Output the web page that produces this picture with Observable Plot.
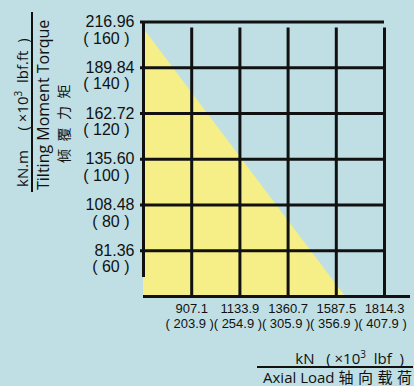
<!DOCTYPE html>
<html>
<head>
<meta charset="utf-8">
<script src="https://cdn.jsdelivr.net/npm/d3@7"></script>
<script src="https://cdn.jsdelivr.net/npm/@observablehq/plot@0.6"></script>
<style>
  html, body { margin: 0; padding: 0; background: #bfdfe4; }
  body { width: 414px; height: 386px; position: relative; overflow: hidden; font-family: "Open Sans", sans-serif; color: #111; }
  #chart { position: absolute; left: 0; top: 0; }
  .ytitle { position: absolute; left: 13px; top: 192px; width: 180px; transform-origin: 0 0; transform: rotate(-90deg); }
  .ytitle .l1 { font-size: 15px; line-height: 18px; height: 20px; border-bottom: 2px solid #111; box-sizing: border-box; padding-left: 5px; white-space: nowrap; }
  .ytitle .l2 { font-size: 16px; line-height: 20px; height: 20px; padding-left: 2px; white-space: nowrap; }
  .ytitle .l3 { font-family: "Noto Sans CJK SC", sans-serif; font-size: 14px; line-height: 20px; padding-left: 29px; letter-spacing: 7.5px; white-space: nowrap; }
  .xtitle { position: absolute; left: 257px; top: 349px; width: 156px; text-align: right; }
  .xtitle .l1 { font-size: 15px; line-height: 18px; height: 19px; border-bottom: 2px solid #111; box-sizing: border-box; padding-right: 9px; white-space: nowrap; }
  .xtitle .l2 { font-size: 15px; line-height: 18px; padding-right: 1px; white-space: nowrap; }
  .xtitle .cjk { font-family: "Noto Sans CJK SC", sans-serif; font-size: 15px; }
  .xtitle .gap { margin-right: 4.5px; }
  sup { font-size: 10px; line-height: 0; vertical-align: 6px; }
</style>
</head>
<body>
<div id="chart"></div>
<div class="ytitle">
  <div class="l1">kN.m&nbsp;&nbsp;&nbsp;&nbsp;&nbsp;(&nbsp;×10<sup>3</sup>&nbsp;&nbsp;lbf.ft&nbsp;&nbsp;)</div>
  <div class="l2">Tilting Moment Torque</div>
  <div class="l3">倾覆力矩</div>
</div>
<div class="xtitle">
  <div class="l1">kN&nbsp;&nbsp;&nbsp;(&nbsp;×10<sup>3</sup>&nbsp;&nbsp;lbf&nbsp;&nbsp;)</div>
  <div class="l2">Axial Load <span class="cjk"><span class="gap">轴</span><span class="gap">向</span><span class="gap">载</span>荷</span></div>
</div>
<script>
// Axis ticks (kN / kN.m) and their imperial equivalents
const xMin = 680.3;
const xTicks = [907.1, 1133.9, 1360.7, 1587.5, 1814.3];
const xLbf = [203.9, 254.9, 305.9, 356.9, 407.9];
const yMin = 54.24;
const yTicks = [81.36, 108.48, 135.60, 162.72, 189.84, 216.96];
const yLbf = [60, 80, 100, 120, 140, 160];

// Boundary of the allowable (yellow) load region
const boundaryLoad = [680.3, 1630];
const boundaryMoment = [213.1, 54.24];

const boundary = boundaryLoad.map((x, i) => ({load: x, moment: boundaryMoment[i]}));
const xMax = xTicks[xTicks.length - 1];
const yMax = yTicks[yTicks.length - 1];
const ink = "#111";
const tickFont = "Liberation Sans, Arial, sans-serif";

const chart = Plot.plot({
  width: 414,
  height: 386,
  marginLeft: 143,
  marginRight: 30,
  marginTop: 21.5,
  marginBottom: 90,
  style: {background: "transparent", fontFamily: tickFont, color: ink},
  x: {domain: [xMin, xMax], axis: null},
  y: {domain: [yMin, yMax], axis: null},
  marks: [
    Plot.areaY(boundary, {x: "load", y: "moment", fill: "#f6ef87", clip: true}),
    // vertical grid lines with small ticks below
    Plot.ruleX(xTicks, {y1: yMin, y2: yMax, stroke: ink, strokeWidth: 3, insetBottom: -6}),
    // horizontal grid lines with small ticks at left
    Plot.ruleY(yTicks, {x1: xMin, x2: xMax, stroke: ink, strokeWidth: 3, insetLeft: -3}),
    // left axis line
    Plot.ruleX([xMin], {y1: yMin, y2: yMax, stroke: ink, strokeWidth: 3, insetTop: -19}),
    // bottom axis line
    Plot.ruleY([yMin], {x1: xMin, x2: xMax, stroke: ink, strokeWidth: 3, insetRight: -26}),
    // y tick labels: metric value on the tick, imperial value below
    Plot.text(yTicks, {
      x: () => xMin, y: d => d,
      text: d => d.toFixed(2),
      textAnchor: "end", dx: -9, dy: 0,
      fontSize: 16, fill: ink
    }),
    Plot.text(yTicks, {
      x: () => xMin, y: d => d,
      text: (d, i) => `( ${yLbf[i]} )`,
      textAnchor: "end", dx: -14, dy: 16.5,
      fontSize: 16, fill: ink
    }),
    // x tick labels
    Plot.text(xTicks, {
      x: d => d, frameAnchor: "bottom",
      text: d => d.toFixed(1),
      dy: 16, fontSize: 13, fill: ink
    }),
    Plot.text(xTicks, {
      x: d => d, frameAnchor: "bottom",
      text: (d, i) => `( ${xLbf[i].toFixed(1)} )`,
      dy: 31, dx: -2, fontSize: 13, fill: ink
    })
  ]
});
document.getElementById("chart").appendChild(chart);
</script>
</body>
</html>
